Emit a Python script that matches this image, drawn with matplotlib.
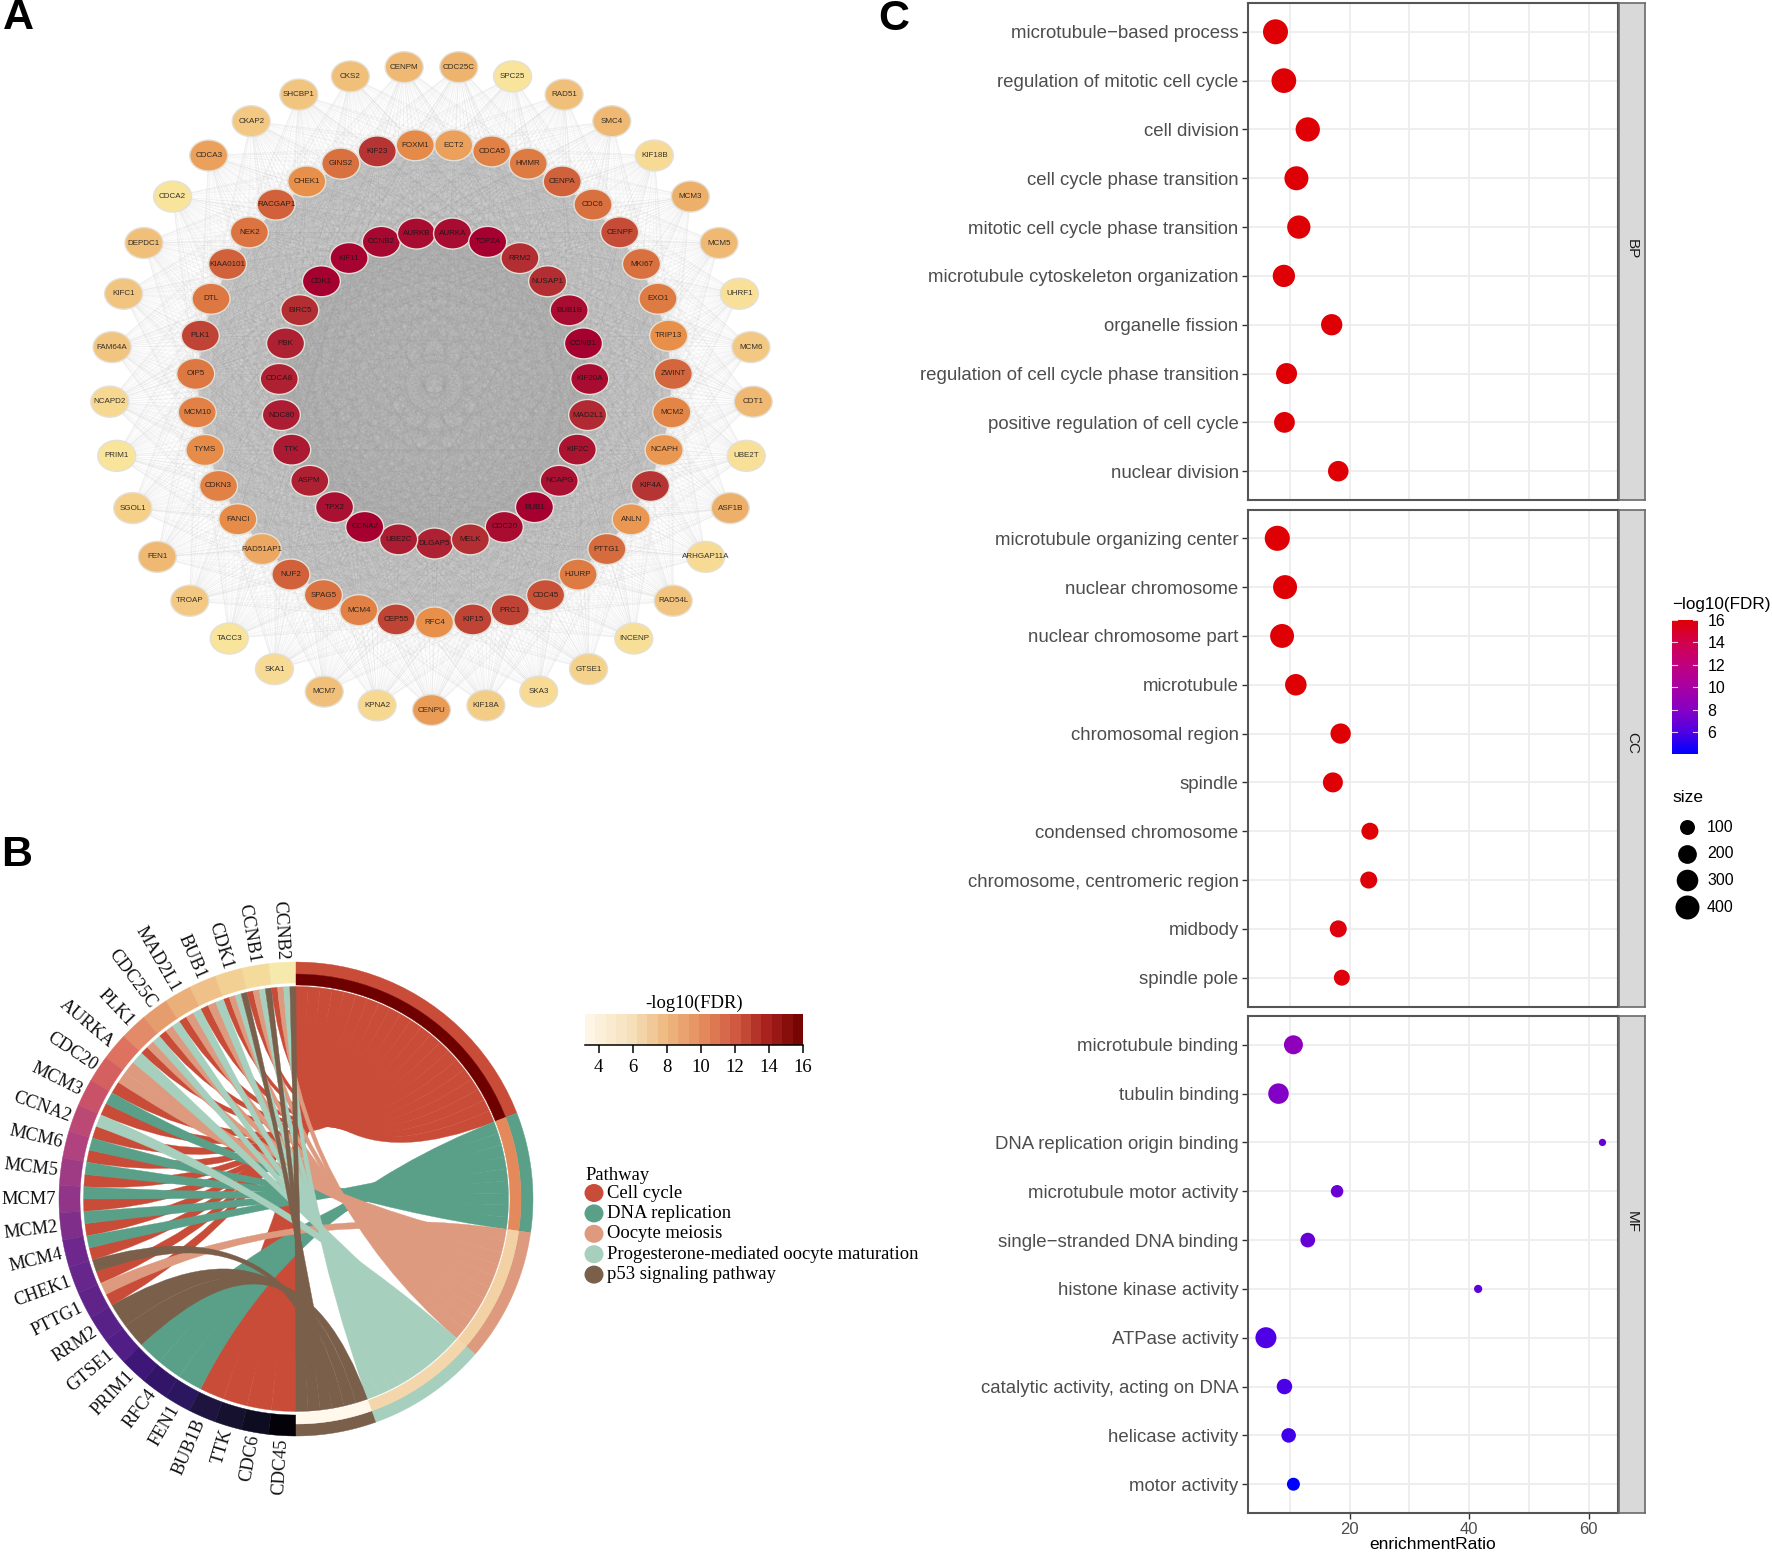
import numpy as np
import matplotlib
matplotlib.use("Agg")
import matplotlib.pyplot as plt
from matplotlib.patches import Ellipse, PathPatch, Polygon, Circle
from matplotlib.path import Path
from matplotlib.collections import LineCollection
from matplotlib.colors import LinearSegmentedColormap, Normalize

W, H = 1772, 1554
SANS = "Liberation Sans"
SERIF = "Liberation Serif"

# ---------- Panel A data ----------
outer_genes = ["CENPU","KPNA2","MCM7","SKA1","TACC3","TROAP","FEN1","SGOL1","PRIM1","NCAPD2","FAM64A","KIFC1","DEPDC1",
               "CDCA2","CDCA3","CKAP2","SHCBP1","CKS2","CENPM","CDC25C","SPC25","RAD51","SMC4","KIF18B","MCM3","MCM5",
               "UHRF1","MCM6","CDT1","UBE2T","ASF1B","ARHGAP11A","RAD54L","INCENP","GTSE1","SKA3","KIF18A"]
outer_score = [.40,.10,.25,.08,.03,.20,.28,.15,.03,.10,.22,.22,.25,.03,.38,.20,.22,.25,.28,.30,.03,.25,.28,.08,.32,.28,
               .05,.20,.28,.05,.32,.08,.22,.06,.14,.08,.17]
mid_genes = ["RFC4","CEP55","MCM4","SPAG5","NUF2","RAD51AP1","FANCI","CDKN3","TYMS","MCM10","OIP5","PLK1","DTL","KIAA0101",
             "NEK2","RACGAP1","CHEK1","GINS2","KIF23","FOXM1","ECT2","CDCA5","HMMR","CENPA","CDC6","CENPF","MKI67","EXO1",
             "TRIP13","ZWINT","MCM2","NCAPH","KIF4A","ANLN","PTTG1","HJURP","CDC45","PRC1","KIF15"]
mid_score = [.45,.78,.52,.58,.66,.35,.47,.52,.47,.52,.56,.78,.56,.66,.58,.66,.45,.60,.85,.48,.38,.52,.55,.66,.60,.74,.60,.55,
             .45,.64,.50,.42,.85,.42,.62,.55,.72,.78,.78]
inner_genes = ["DLGAP5","UBE2C","CCNA2","TPX2","ASPM","TTK","NDC80","CDCA8","PBK","BIRC5","CDK1","KIF11","CCNB2","AURKB",
               "AURKA","TOP2A","RRM2","NUSAP1","BUB1B","CCNB1","KIF20A","MAD2L1","KIF2C","NCAPG","BUB1","CDC20","MELK"]
inner_score = [.92,.93,1.0,.96,.92,.94,.93,.92,.92,.88,1.0,.99,.98,.97,.97,1.0,.88,.88,.97,1.0,.97,.90,.95,.96,1.0,.97,.88]

# ---------- Panel B data ----------
chord_genes = ["CCNB2","CCNB1","CDK1","BUB1","MAD2L1","CDC25C","PLK1","AURKA","CDC20","MCM3","CCNA2","MCM6","MCM5","MCM7",
               "MCM2","MCM4","CHEK1","PTTG1","RRM2","GTSE1","PRIM1","RFC4","FEN1","BUB1B","TTK","CDC6","CDC45"]
gene_lfc = [7.0,6.8,6.55,6.35,6.15,5.95,5.75,5.55,5.35,5.15,4.95,4.75,4.55,4.35,4.15,3.95,3.75,3.55,3.35,3.15,2.9,2.65,
            2.4,2.1,1.7,1.3,0.8]
pathways = ["Cell cycle","DNA replication","Oocyte meiosis","Progesterone-mediated oocyte maturation","p53 signaling pathway"]
pathway_colors = ["#C94C38","#5AA088","#DE9A7E","#A6CFBD","#7A5F4B"]
pathway_fdr = [16.0,10.2,6.7,6.5,3.3]
pathway_members = [
    ["CCNB2","CCNB1","CDK1","BUB1","MAD2L1","CDC25C","PLK1","CDC20","MCM3","CCNA2","MCM6","MCM5","MCM7","MCM2","MCM4",
     "CHEK1","PTTG1","BUB1B","TTK","CDC6","CDC45"],
    ["MCM3","MCM6","MCM5","MCM7","MCM2","MCM4","PRIM1","RFC4","FEN1"],
    ["CCNB2","CCNB1","CDK1","BUB1","MAD2L1","CDC25C","PLK1","AURKA","CDC20","PTTG1"],
    ["CCNB2","CCNB1","CDK1","BUB1","MAD2L1","CDC25C","PLK1","AURKA","CCNA2"],
    ["CCNB2","CCNB1","CDK1","CHEK1","RRM2","GTSE1"],
]
fdr_ticks = [4,6,8,10,12,14,16]

# ---------- Panel C data ----------
bp_terms = ["microtubule\u2212based process","regulation of mitotic cell cycle","cell division","cell cycle phase transition",
            "mitotic cell cycle phase transition","microtubule cytoskeleton organization","organelle fission",
            "regulation of cell cycle phase transition","positive regulation of cell cycle","nuclear division"]
bp_ratio = [7.6,9.0,13.0,11.1,11.5,9.0,17.0,9.45,9.1,18.1]
bp_size = [445,432,413,400,369,328,289,278,270,260]
bp_fdr = [16,16,16,16,16,16,16,16,16,16]
cc_terms = ["microtubule organizing center","nuclear chromosome","nuclear chromosome part","microtubule","chromosomal region",
            "spindle","condensed chromosome","chromosome, centromeric region","midbody","spindle pole"]
cc_ratio = [7.9,9.2,8.7,11.0,18.5,17.2,23.4,23.2,18.1,18.7]
cc_size = [450,400,395,297,253,242,150,150,150,123]
cc_fdr = [16,16,16,16,16,16,16,15.9,15.8,15.8]
mf_terms = ["microtubule binding","tubulin binding","DNA replication origin binding","microtubule motor activity",
            "single\u2212stranded DNA binding","histone kinase activity","ATPase activity","catalytic activity, acting on DNA",
            "helicase activity","motor activity"]
mf_ratio = [10.6,8.1,62.3,17.9,13.0,41.5,6.0,9.1,9.8,10.6]
mf_size = [208,260,2,52,93,6,278,111,90,60]
mf_fdr = [8.4,7.8,6.8,6.9,6.8,6.5,6.0,5.9,5.6,4.06]
facet_names = ["BP","CC","MF"]
size_levels = [100,200,300,400]
fdr_bar_ticks = [6,8,10,12,14,16]

node_cmap = LinearSegmentedColormap.from_list("node",[(0,"#FAE8A0"),(.25,"#F0C07A"),(.45,"#E8904A"),(.6,"#D9703F"),
                                                      (.75,"#C44A36"),(.9,"#B02A33"),(1,"#A50030")])
fdr_cmap = LinearSegmentedColormap.from_list("fdr",[(0,"#FFF8EC"),(.22,"#F5DFB8"),(.37,"#EEB981"),(.53,"#E58E5F"),
                                                    (.69,"#CF5A41"),(.84,"#A8201C"),(1,"#6E0000")])
fdr_norm = Normalize(3.2,16)
gene_cmap = LinearSegmentedColormap.from_list("gene",[(0,"#040208"),(.08,"#0E0C22"),(.145,"#15112E"),(.21,"#1F1440"),
    (.26,"#2B1760"),(.30,"#331568"),(.34,"#3F1678"),(.38,"#501E85"),(.44,"#5F2489"),(.51,"#6E288D"),(.57,"#8F3488"),
    (.637,"#AE4280"),(.70,"#C85068"),(.734,"#D56060"),(.766,"#DE7060"),(.80,"#E38A68"),(.83,"#E69C6E"),(.86,"#EBAE78"),
    (.895,"#EFC088"),(.93,"#F2CF92"),(.968,"#F4DB9C"),(1,"#F6E9AC")])
gene_norm = Normalize(0.8,7.0)
ratio_cmap = LinearSegmentedColormap.from_list("ratio",[(0,"#0000FF"),(.16,"#5000E4"),(.33,"#8800C4"),(.5,"#A800A4"),
                                                        (.66,"#C00080"),(.83,"#D20050"),(1,"#DF0006")])
ratio_norm = Normalize(4.06,16)

fig = plt.figure(figsize=(W/100,H/100),dpi=100,facecolor="white")
def px_axes(x0,y0,x1,y1,**kw):
    return fig.add_axes([x0/W,1-y1/H,(x1-x0)/W,(y1-y0)/H],**kw)

base = px_axes(0,0,W,H)
base.set_xlim(0,W); base.set_ylim(H,0); base.axis("off")

for letter,x,y in [("A",3,18),("B",1,855),("C",878,19)]:
    base.text(x,y,letter,fontsize=31,fontweight="bold",family=SANS,va="center",ha="left",color="black")

# ---------- Panel A ----------
def ring(names,cx,cy,r):
    n=len(names)
    th=np.arange(n)*2*np.pi/n
    return np.column_stack([cx-r*np.sin(th),cy+r*np.cos(th)])
p_out=ring(outer_genes,431.5,388,322)
p_mid=ring(mid_genes,434.5,383.5,239)
p_in=ring(inner_genes,434.5,388,155.5)

def pairs(a,b=None):
    if b is None:
        return [(a[i],a[j]) for i in range(len(a)) for j in range(i+1,len(a))]
    return [(u,v) for u in a for v in b]
base.add_patch(Circle((434.5,384),236,facecolor="#d2d2d2",edgecolor="none",zorder=.5))
base.add_patch(Circle((434.5,388),155,facecolor="#c2c2c2",edgecolor="none",zorder=.6))
base.add_collection(LineCollection(pairs(p_out,p_in)+pairs(p_out,p_mid),colors="#a0a0a0",linewidths=.4,alpha=.10,zorder=1))
base.add_collection(LineCollection(pairs(p_in)+pairs(p_in,p_mid)+pairs(p_mid),colors="#9c9c9c",linewidths=.5,alpha=.14,zorder=1))

for names,scores,pos in [(outer_genes,outer_score,p_out),(mid_genes,mid_score,p_mid),(inner_genes,inner_score,p_in)]:
    for name,s,(x,y) in zip(names,scores,pos):
        base.add_patch(Ellipse((x,y),38,31,facecolor=node_cmap(s),edgecolor="#e4e0d8",lw=1,zorder=2))
        base.text(x,y,name,fontsize=5.8,family=SANS,ha="center",va="center",color="#151515",alpha=.85,zorder=3)

# ---------- Panel B ----------
CX,CY=296,1199
R_out,R_mid,R_in,R_gene,R_rib=237,225,214,216,212.5
def cpt(t,r):
    t=np.radians(t)
    return np.array([CX+r*np.sin(t),CY-r*np.cos(t)])
def arc(t0,t1,r,n=24):
    return [cpt(t,r) for t in np.linspace(t0,t1,n)]
def band(t0,t1,r0,r1,color,z=4):
    base.add_patch(Polygon(arc(t0,t1,r1)+arc(t1,t0,r0),closed=True,facecolor=color,edgecolor=color,lw=.3,zorder=z))

gene_w=180/len(chord_genes)
unit=180/sum(len(m) for m in pathway_members)
gene_slots={}
for i,g in enumerate(chord_genes):
    ps=[k for k,m in enumerate(pathway_members) if g in m][::-1]
    w=gene_w/len(ps)
    for j,k in enumerate(ps):
        top=-i*gene_w-j*w
        gene_slots[(g,k)]=(top,top-w)
    col=gene_cmap(gene_norm(gene_lfc[i]))
    band(-i*gene_w,-(i+1)*gene_w,R_gene,R_out,col)
    mid=-(i+.5)*gene_w
    x,y=cpt(mid,R_out+3)
    base.text(x,y,g,fontsize=13.2,family=SERIF,rotation=-mid-90,rotation_mode="anchor",ha="right",va="center",color="#111111",zorder=5)

start=0
for k,(m,c) in enumerate(zip(pathway_members,pathway_colors)):
    end=start+unit*len(m)
    band(start,end,R_mid,R_out,c)
    band(start,end,R_in,R_mid,fdr_cmap(fdr_norm(pathway_fdr[k])))
    ordered=sorted(m,key=chord_genes.index,reverse=True)
    for q,g in enumerate(ordered):
        a0,a1=start+q*unit,start+(q+1)*unit
        gu,gl=gene_slots[(g,k)]
        A=arc(a0,a1,R_rib,8); G=arc(gl,gu,R_rib,6)
        verts=list(A)+[(CX,CY),G[0]]+list(G[1:])+[(CX,CY),A[0]]
        codes=[Path.MOVETO]+[Path.LINETO]*(len(A)-1)+[Path.CURVE3,Path.CURVE3]+[Path.LINETO]*(len(G)-1)+[Path.CURVE3,Path.CURVE3]
        base.add_patch(PathPatch(Path(verts,codes),facecolor=c,edgecolor=c,lw=.25,zorder=3))
    start=end

# B colorbar
cb=px_axes(585,1014,803,1045)
levels=np.linspace(3.2,16,22)
cb.pcolormesh(levels,[0,1],np.array([(levels[:-1]+levels[1:])/2]),cmap=fdr_cmap,norm=fdr_norm,shading="flat")
cb.set_xlim(3.2,16); cb.set_yticks([]); cb.set_xticks(fdr_ticks)
for s in ["top","left","right"]: cb.spines[s].set_visible(False)
cb.spines["bottom"].set_linewidth(1.1)
cb.tick_params(axis="x",length=6,width=1.1,labelsize=13.5,pad=4)
for t in cb.get_xticklabels(): t.set_family(SERIF)
base.text(694,1003,"-log10(FDR)",fontsize=13.4,family=SERIF,ha="center",va="center")
# B legend
base.text(585.5,1175,"Pathway",fontsize=13.4,family=SERIF,ha="left",va="center")
for i,(name,c) in enumerate(zip(pathways,pathway_colors)):
    y=1193+i*20.4
    base.add_patch(Ellipse((594,y),19,18,facecolor=c,edgecolor="none",zorder=3))
    base.text(607,y,name,fontsize=13.45,family=SERIF,ha="left",va="center")

# ---------- Panel C ----------
panel_y=[(3,500),(509.5,1006.5),(1016,1513)]
strip_label_y=[249,743,1222]
XL,XR,SR=1248,1618,1645
def diam(s):
    return (6+.9*np.sqrt(np.asarray(s,float)))*.72
panels=[(bp_terms,bp_ratio,bp_size,bp_fdr),(cc_terms,cc_ratio,cc_size,cc_fdr),(mf_terms,mf_ratio,mf_size,mf_fdr)]
for idx,((terms,ratio,size,fdr),(y0,y1)) in enumerate(zip(panels,panel_y)):
    ax=px_axes(XL,y0,XR,y1)
    ypos=np.arange(len(terms))
    ax.set_xlim(3.0,64.9); ax.set_ylim(len(terms)-.41,-.59)
    ax.set_axisbelow(True)
    ax.set_xticks([20,40,60]); ax.set_xticks([10,30,50],minor=True)
    ax.set_yticks(ypos); ax.set_yticklabels(terms,fontsize=13.45,family=SANS,color="#4D4D4D")
    ax.grid(True,which="both",color="#EDEDED",lw=1.3)
    ax.tick_params(axis="x",which="minor",length=0)
    ax.tick_params(axis="y",length=4.2,width=1,color="#333333",pad=2.5)
    if idx==2:
        ax.tick_params(axis="x",which="major",length=4.2,width=1,color="#333333",labelsize=12,labelcolor="#4D4D4D",pad=2)
        for t in ax.get_xticklabels(): t.set_family(SANS)
        ax.set_xlabel("enrichmentRatio",fontsize=12.5,family=SANS,labelpad=0)
    else:
        ax.tick_params(axis="x",which="major",length=0,labelbottom=False)
    for s in ax.spines.values():
        s.set_color("#555555"); s.set_linewidth(1.5)
    ax.scatter(ratio,ypos,s=diam(size)**2,c=fdr,cmap=ratio_cmap,norm=ratio_norm,linewidths=0,zorder=3,clip_on=False)
    st=px_axes(XR+1,y0,SR,y1)
    st.set_facecolor("#D9D9D9"); st.set_xticks([]); st.set_yticks([])
    for s in st.spines.values():
        s.set_color("#6a6a6a"); s.set_linewidth(1.2)
    fig.text(1632/W,1-strip_label_y[idx]/H,facet_names[idx],rotation=-90,ha="center",va="center",fontsize=11,family=SANS,color="#1A1A1A")

# C colorbar
base.text(1672,605,"\u2212log10(FDR)",fontsize=12.3,family=SANS,ha="left",va="center")
cbc=px_axes(1672,620,1698,754)
vals=np.linspace(4.06,16,200)
cbc.imshow(vals[:,None],origin="lower",aspect="auto",cmap=ratio_cmap,norm=ratio_norm,extent=[0,1,4.06,16])
cbc.set_xticks([]); cbc.yaxis.tick_right(); cbc.set_yticks(fdr_bar_ticks)
cbc.tick_params(axis="y",length=0,labelsize=11.5,pad=7)
for t in cbc.get_yticklabels(): t.set_family(SANS)
for s in cbc.spines.values(): s.set_visible(False)
for v in fdr_bar_ticks:
    cbc.plot([0,.2],[v,v],color="white",lw=.8,alpha=.8)
    cbc.plot([.8,1],[v,v],color="white",lw=.8,alpha=.8)
cbc.set_xlim(0,1); cbc.set_ylim(4.06,16)
# size legend
base.text(1672,797,"size",fontsize=12.5,family=SANS,ha="left",va="center")
for i,s in enumerate(size_levels):
    y=827+i*26.7
    base.scatter([1687],[y],s=diam(s)**2,color="black",linewidths=0)
    base.text(1707,y,str(s),fontsize=11.5,family=SANS,ha="left",va="center")

fig.savefig("out.png",dpi=100,facecolor="white")
